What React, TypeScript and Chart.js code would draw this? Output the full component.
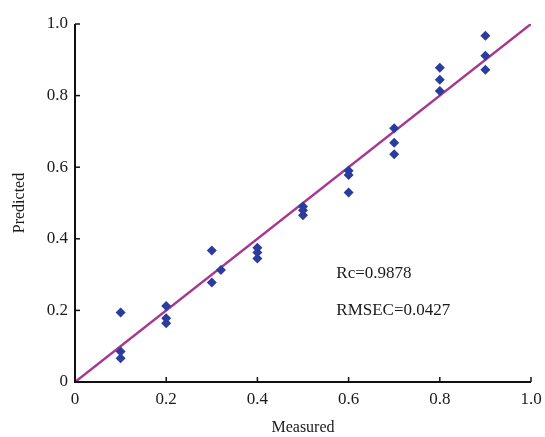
import React, { useEffect, useRef } from "react";
import { Chart, registerables } from "chart.js";

Chart.register(...registerables);

const measured = [
  0.1, 0.1, 0.1,
  0.2, 0.2, 0.2,
  0.3, 0.3, 0.32,
  0.4, 0.4, 0.4,
  0.5, 0.5, 0.5,
  0.6, 0.6, 0.6,
  0.7, 0.7, 0.7,
  0.8, 0.8, 0.8,
  0.9, 0.9, 0.9,
];
const predicted = [
  0.194, 0.085, 0.066,
  0.212, 0.178, 0.164,
  0.367, 0.278, 0.313,
  0.375, 0.362, 0.345,
  0.49, 0.48, 0.466,
  0.59, 0.578, 0.529,
  0.709, 0.668, 0.636,
  0.878, 0.844, 0.813,
  0.967, 0.911, 0.872,
];
const fitX = [0, 1];
const fitY = [0, 1];
const tickValues = [0, 0.2, 0.4, 0.6, 0.8, 1.0];
const statLines = ["Rc=0.9878", "RMSEC=0.0427"];
const xTitle = "Measured";
const yTitle = "Predicted";

const FONT = "'Liberation Serif', 'DejaVu Serif', serif";

const fmt = (v: number) => (Math.abs(v) < 1e-9 ? "0" : v.toFixed(1));

const axesPlugin = {
  id: "inwardAxes",
  afterDatasetsDraw(chart: any) {
    const { ctx, chartArea, scales } = chart;
    const xs = scales.x;
    const ys = scales.y;
    ctx.save();
    ctx.strokeStyle = "#111";
    ctx.lineWidth = 2;
    const x0 = xs.getPixelForValue(0);
    const y0 = ys.getPixelForValue(0);
    const x1 = xs.getPixelForValue(1);
    const y1 = ys.getPixelForValue(1);
    ctx.beginPath();
    ctx.moveTo(x0, y1);
    ctx.lineTo(x0, y0);
    ctx.lineTo(x1, y0);
    ctx.stroke();
    ctx.lineWidth = 1.5;
    tickValues.forEach((v) => {
      const px = xs.getPixelForValue(v);
      ctx.beginPath();
      ctx.moveTo(px, y0);
      ctx.lineTo(px, y0 - 5);
      ctx.stroke();
      const py = ys.getPixelForValue(v);
      ctx.beginPath();
      ctx.moveTo(x0, py);
      ctx.lineTo(x0 + 5, py);
      ctx.stroke();
    });
    ctx.fillStyle = "#1a1a1a";
    ctx.font = `17px ${FONT}`;
    ctx.textAlign = "left";
    ctx.textBaseline = "middle";
    const tx = chartArea.left + (chartArea.right - chartArea.left) * 0.573;
    const ty0 = chartArea.top + (chartArea.bottom - chartArea.top) * 0.698;
    statLines.forEach((s, i) => {
      ctx.fillText(s, tx, ty0 + i * 37);
    });
    ctx.restore();
  },
};

export default function App() {
  const ref = useRef<HTMLCanvasElement | null>(null);
  useEffect(() => {
    document.body.style.margin = "0";
    if (!ref.current) return;
    const chart = new Chart(ref.current, {
      type: "scatter",
      data: {
        datasets: [
          {
            type: "line",
            data: fitX.map((x, i) => ({ x, y: fitY[i] })),
            borderColor: "#a8378f",
            borderWidth: 2.5,
            pointRadius: 0,
            fill: false,
            order: 2,
          } as any,
          {
            type: "scatter",
            data: measured.map((x, i) => ({ x, y: predicted[i] })),
            backgroundColor: "#2a3c9c",
            borderColor: "#2a3c9c",
            borderWidth: 0,
            pointStyle: "rectRot",
            pointRadius: 5,
            order: 1,
          },
        ],
      },
      options: {
        responsive: false,
        animation: false,
        layout: { padding: { left: 0, right: 14, top: 24, bottom: 0 } },
        plugins: { legend: { display: false }, tooltip: { enabled: false } },
        scales: {
          x: {
            type: "linear",
            min: 0,
            max: 1,
            afterBuildTicks: (s: any) => {
              s.ticks = tickValues.map((v) => ({ value: v }));
            },
            afterFit: (s: any) => {
              s.height = 55;
              s.paddingLeft = 0;
              s.paddingRight = 0;
            },
            grid: { display: false, drawTicks: false },
            border: { display: false },
            ticks: {
              color: "#1a1a1a",
              font: { family: FONT, size: 17 },
              padding: 7,
              callback: (v: any) => fmt(Number(v)),
              maxRotation: 0,
            },
            title: {
              display: true,
              text: xTitle,
              color: "#1a1a1a",
              font: { family: FONT, size: 16 },
              padding: { top: 2, bottom: 0 },
            },
          },
          y: {
            type: "linear",
            min: 0,
            max: 1,
            afterBuildTicks: (s: any) => {
              s.ticks = tickValues.map((v) => ({ value: v }));
            },
            afterFit: (s: any) => {
              s.width = 75;
              s.paddingTop = 0;
              s.paddingBottom = 0;
            },
            grid: { display: false, drawTicks: false },
            border: { display: false },
            ticks: {
              color: "#1a1a1a",
              font: { family: FONT, size: 17 },
              padding: 7,
              callback: (v: any) => fmt(Number(v)),
            },
            title: {
              display: true,
              text: yTitle,
              color: "#1a1a1a",
              font: { family: FONT, size: 16 },
              padding: { top: 10, bottom: 0 },
            },
          },
        },
      },
      plugins: [axesPlugin],
    });
    return () => chart.destroy();
  }, []);
  return (
    <div style={{ width: 545, height: 437, background: "#fff" }}>
      <canvas ref={ref} width={545} height={437} style={{ display: "block" }} />
    </div>
  );
}
